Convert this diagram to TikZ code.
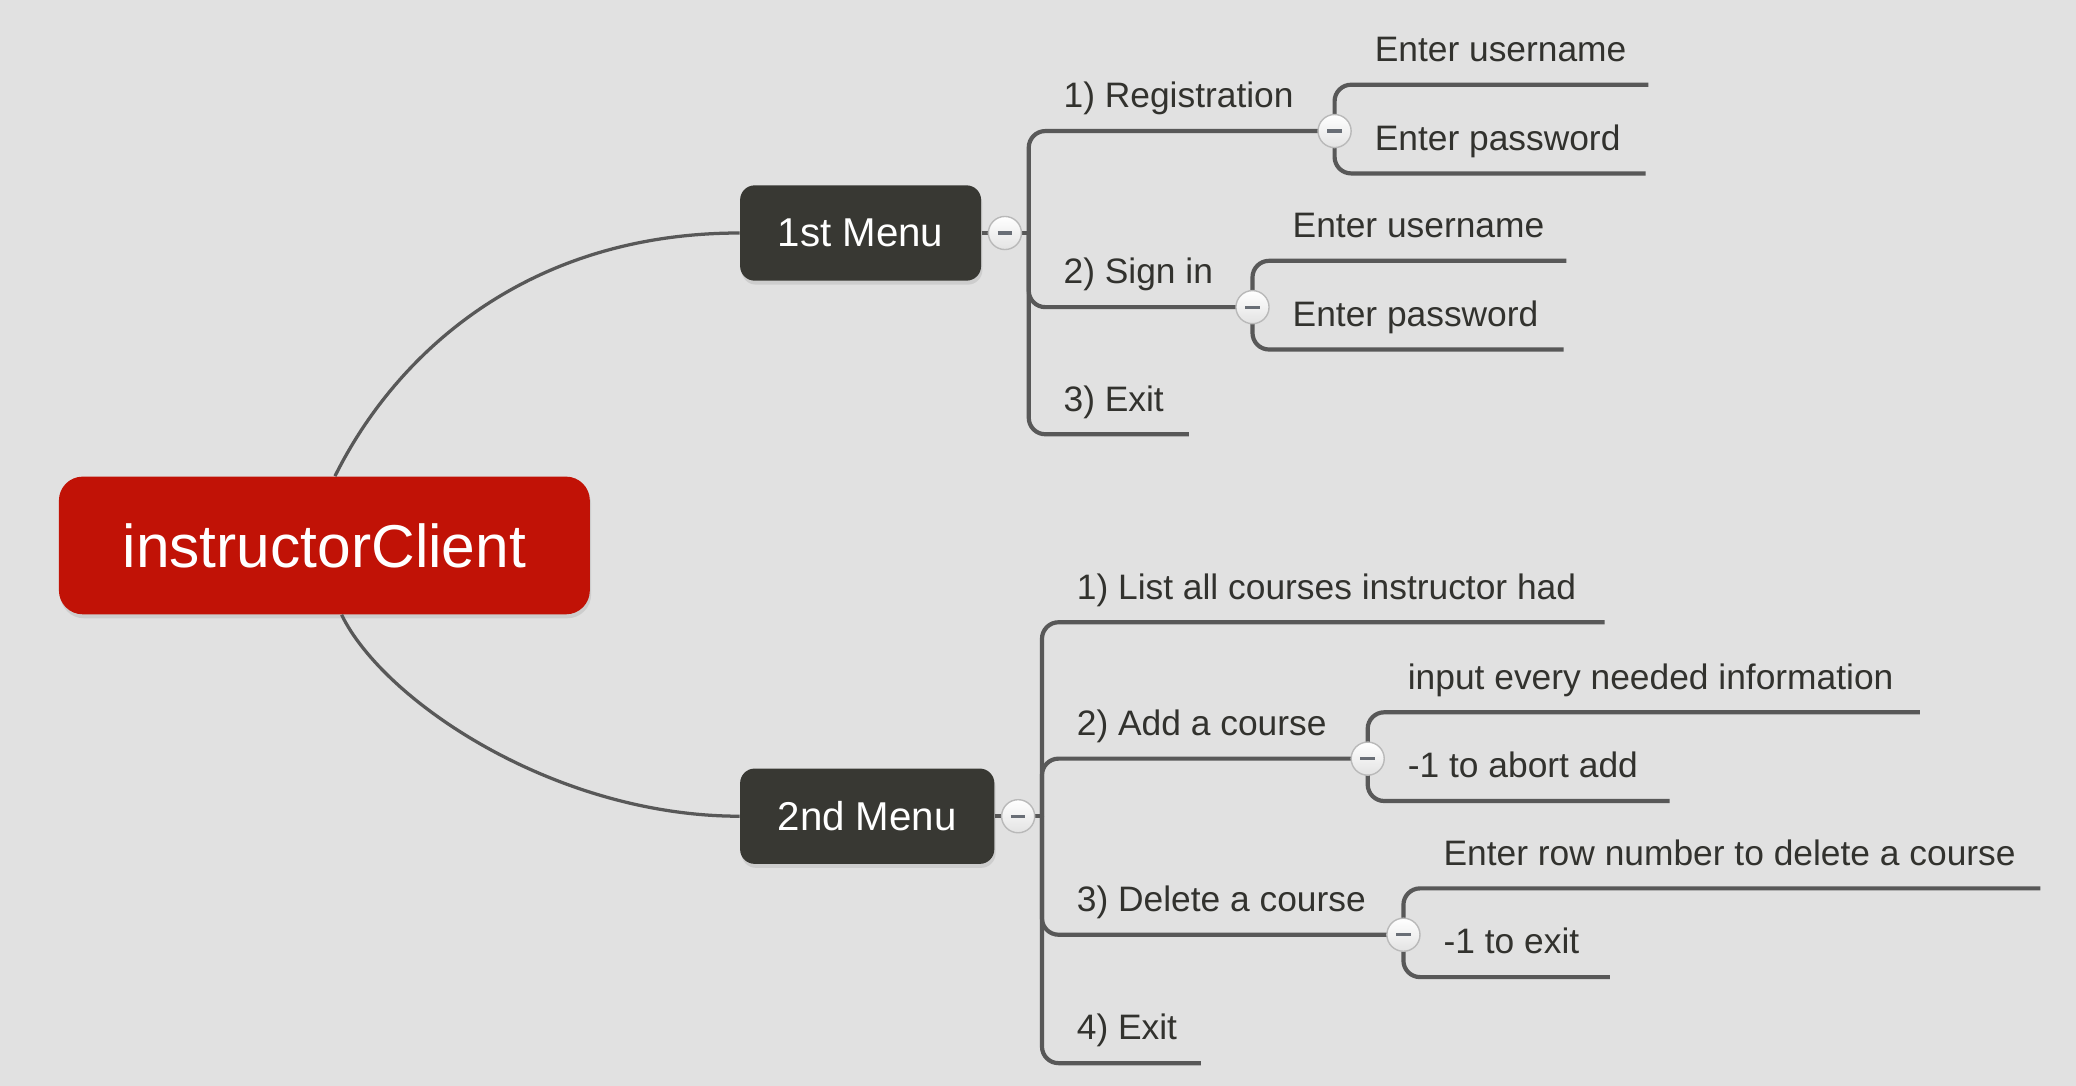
\documentclass[tikz,border=0pt]{standalone}
\usepackage{fontspec}
\setmainfont{Liberation Sans}
\usetikzlibrary{shadows}

\definecolor{bggray}{RGB}{225,225,225}
\definecolor{rootred}{RGB}{193,18,6}
\definecolor{menugray}{RGB}{56,56,51}
\definecolor{linegray}{RGB}{88,88,88}
\definecolor{txtgray}{RGB}{50,50,46}
\definecolor{minusgray}{RGB}{105,110,118}

\tikzset{
  rootbox/.style={rectangle, rounded corners=0.36cm, fill=rootred, text=white,
    minimum width=8.02cm, minimum height=2.08cm, font=\fontsize{26}{30}\selectfont,
    drop shadow={shadow xshift=0.02cm, shadow yshift=-0.06cm, opacity=0.2}},
  menubox/.style={rectangle, rounded corners=0.22cm, fill=menugray, text=white,
    minimum height=1.44cm, font=\fontsize{17.3}{20}\selectfont,
    drop shadow={shadow xshift=0.02cm, shadow yshift=-0.06cm, opacity=0.2}},
  item/.style={anchor=base west, inner sep=0pt, text=txtgray, font=\fontsize{15.2}{18}\selectfont},
  branch/.style={draw=linegray, line width=1.8pt, rounded corners=0.25cm},
  curve/.style={draw=linegray, line width=1.4pt},
  fold/.style={circle, draw=gray!55, line width=0.6pt, inner sep=0pt, minimum size=0.5cm,
    top color=white, bottom color=gray!22,
    path picture={\draw[minusgray, line width=1.4pt]
      ([xshift=-0.11cm]path picture bounding box.center) -- ([xshift=0.11cm]path picture bounding box.center);}}
}

\begin{document}
\begin{tikzpicture}
\fill[bggray] (0,0) rectangle (31.36,16.4);

\node[rootbox] (root) at (4.9,8.16) {instructorClient};
\node[menubox, minimum width=3.64cm] (m1) at (13.0,12.88) {1st Menu};
\node[menubox, minimum width=3.84cm] (m2) at (13.1,4.07) {2nd Menu};

\draw[curve] ([xshift=0.16cm]root.north) .. controls (6.0,11.1) and (8.0,12.88) .. (m1.west);
\draw[curve] ([xshift=0.26cm]root.south) .. controls (5.8,5.8) and (8.4,4.07) .. (m2.west);

% 1st Menu
\coordinate (j1) at (15.54,12.88);
\coordinate (s1) at (20.16,14.42);
\coordinate (s2) at (18.92,11.76);
\coordinate (r3e) at (17.96,9.84);
\coordinate (u1e) at (24.9,15.12);
\coordinate (p1e) at (24.86,13.78);
\coordinate (u2e) at (23.66,12.46);
\coordinate (p2e) at (23.62,11.12);

\draw[branch] (m1.east) -- (j1);
\draw[branch] (j1) |- (s1);
\draw[branch] (j1) |- (s2);
\draw[branch] (j1) |- (r3e);
\draw[branch] (s1) |- (u1e);
\draw[branch] (s1) |- (p1e);
\draw[branch] (s2) |- (u2e);
\draw[branch] (s2) |- (p2e);

\node[item] (r1) at (16.06,14.77) {1) Registration};
\node[item] (r2) at (16.06,12.11) {2) Sign in};
\node[item] (r3) at (16.06,10.19) {3) Exit};
\node[item] (u1) at (20.76,15.47) {Enter username};
\node[item] (p1) at (20.76,14.13) {Enter password};
\node[item] (u2) at (19.52,12.81) {Enter username};
\node[item] (p2) at (19.52,11.47) {Enter password};

\node[fold] (c1) at (15.18,12.88) {};
\node[fold] at (s1) {};
\node[fold] at (s2) {};

% 2nd Menu
\coordinate (j2) at (15.74,4.07);
\coordinate (l1e) at (24.24,7.0);
\coordinate (s3) at (20.66,4.94);
\coordinate (s4) at (21.2,2.28);
\coordinate (l4e) at (18.14,0.34);
\coordinate (a1e) at (29.0,5.64);
\coordinate (a2e) at (25.22,4.3);
\coordinate (d1e) at (30.82,2.98);
\coordinate (d2e) at (24.32,1.64);

\draw[branch] (m2.east) -- (j2);
\draw[branch] (j2) |- (l1e);
\draw[branch] (j2) |- (s3);
\draw[branch] (j2) |- (s4);
\draw[branch] (j2) |- (l4e);
\draw[branch] (s3) |- (a1e);
\draw[branch] (s3) |- (a2e);
\draw[branch] (s4) |- (d1e);
\draw[branch] (s4) |- (d2e);

\node[item] (l1) at (16.26,7.35) {1) List all courses instructor had};
\node[item] (l2) at (16.26,5.29) {2) Add a course};
\node[item] (l3) at (16.26,2.63) {3) Delete a course};
\node[item] (l4) at (16.26,0.69) {4) Exit};
\node[item] (a1) at (21.26,5.99) {input every needed information};
\node[item] (a2) at (21.26,4.65) {-1 to abort add};
\node[item] (d1) at (21.8,3.33) {Enter row number to delete a course};
\node[item] (d2) at (21.8,1.99) {-1 to exit};

\node[fold] (c2) at (15.38,4.07) {};
\node[fold] at (s3) {};
\node[fold] at (s4) {};
\end{tikzpicture}
\end{document}
